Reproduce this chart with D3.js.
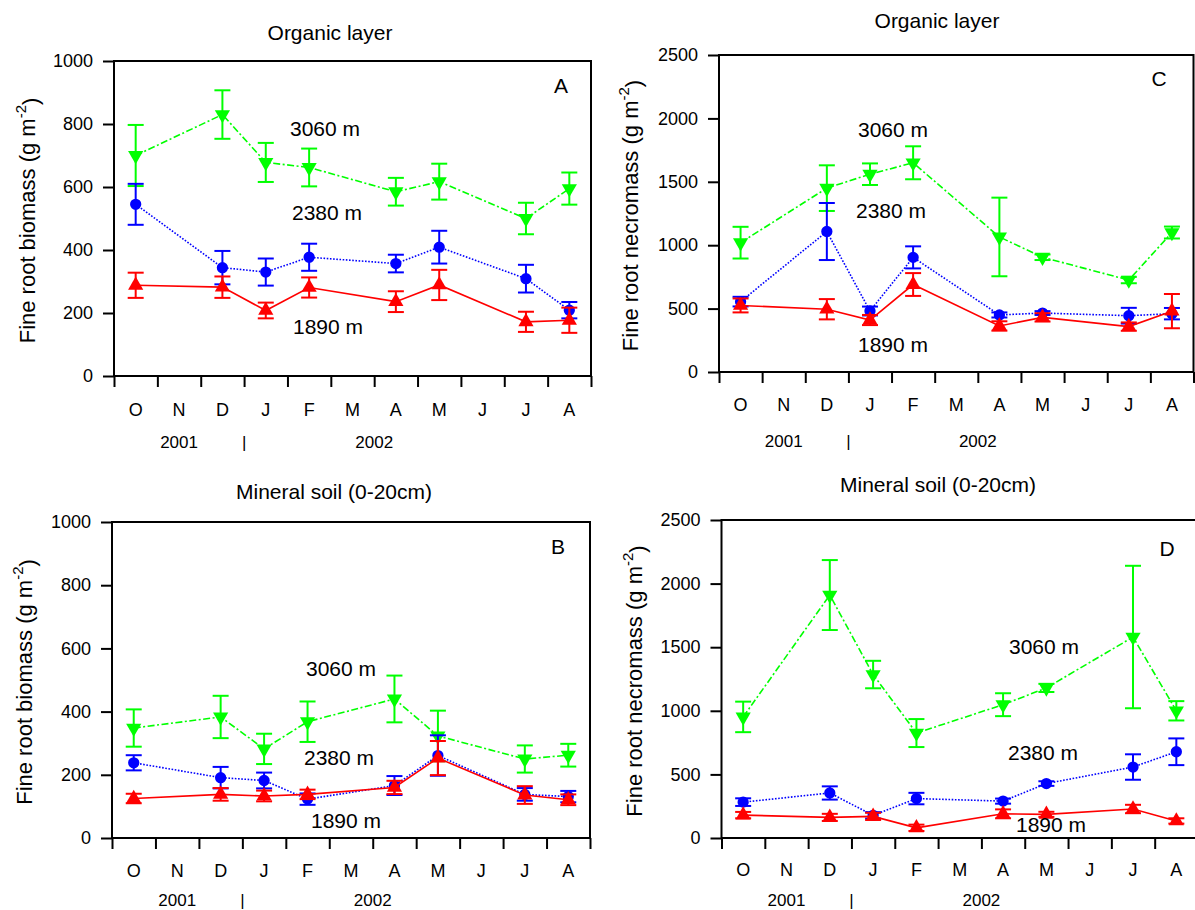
<!DOCTYPE html>
<html>
<head>
<meta charset="utf-8">
<script src="https://cdn.jsdelivr.net/npm/d3@7"></script>
<style>
  html, body { margin: 0; padding: 0; background: #fff; }
  svg { display: block; }
  text { font-family: "Liberation Sans", Arial, Helvetica, sans-serif; fill: #000; }
</style>
</head>
<body>
<svg id="chart" width="1195" height="910"></svg>
<script>
// Months on the x axis (Oct 2001 – Aug 2002) and the months that were sampled
const months = ["O", "N", "D", "J", "F", "M", "A", "M", "J", "J", "A"];
const sampleMonth = [0, 2, 3, 4, 6, 7, 9, 10];
const elevations = ["1890 m", "2380 m", "3060 m"];
const years = ["2001", "|", "2002"];

// Organic layer – fine root biomass (g m-2), mean and SE
const orgBio1890 = [288, 282, 208, 281, 236, 289, 172, 177];
const orgBio1890Se = [40, 34, 25, 32, 33, 48, 32, 40];
const orgBio2380 = [545, 344, 330, 377, 357, 409, 309, 209];
const orgBio2380Se = [65, 53, 43, 43, 28, 52, 44, 26];
const orgBio3060 = [700, 830, 678, 662, 585, 617, 500, 595];
const orgBio3060Se = [97, 77, 62, 60, 44, 57, 50, 51];

// Mineral soil (0-20cm) – fine root biomass
const minBio1890 = [125, 138, 133, 138, 160, 253, 136, 121];
const minBio1890Se = [15, 20, 17, 15, 21, 54, 28, 17];
const minBio2380 = [238, 191, 182, 123, 166, 261, 138, 131];
const minBio2380Se = [24, 34, 25, 18, 30, 64, 20, 18];
const minBio3060 = [348, 383, 282, 368, 440, 323, 250, 262];
const minBio3060Se = [59, 67, 48, 64, 74, 80, 43, 36];

// Organic layer – fine root necromass
const orgNec1890 = [525, 495, 410, 690, 363, 431, 358, 480];
const orgNec1890Se = [55, 80, 40, 90, 37, 33, 33, 135];
const orgNec2380 = [555, 1108, 481, 904, 450, 465, 444, 460];
const orgNec2380Se = [38, 225, 35, 87, 20, 15, 62, 45];
const orgNec3060 = [1020, 1450, 1560, 1650, 1065, 905, 725, 1100];
const orgNec3060Se = [125, 180, 85, 130, 310, 22, 25, 47];

// Mineral soil (0-20cm) – fine root necromass
const minNec1890 = [180, 162, 170, 80, 190, 186, 228, 134];
const minNec1890Se = [25, 28, 28, 25, 35, 20, 33, 21];
const minNec2380 = [282, 354, 178, 310, 290, 428, 558, 678];
const minNec2380Se = [30, 52, 25, 45, 20, 18, 100, 105];
const minNec3060 = [952, 1910, 1285, 825, 1048, 1180, 1580, 1000];
const minNec3060Se = [120, 275, 108, 110, 90, 32, 560, 76];

const biomassTicks = [0, 200, 400, 600, 800, 1000];
const necromassTicks = [0, 500, 1000, 1500, 2000, 2500];

// Series styles: drawn 3060 first, then 2380, then 1890 on top
const seriesStyle = {
  "3060 m": { color: "#00ff00", dash: "7,2.5,2,2.5", symbol: "down" },
  "2380 m": { color: "#0000ff", dash: "1.6,1.6", symbol: "circle" },
  "1890 m": { color: "#ff0000", dash: null, symbol: "up" }
};

const panels = [
  {
    letter: "A", title: "Organic layer", yLabel: "Fine root biomass (g m",
    left: 114, top: 61, right: 591, bottom: 376, yMax: 1000, ticks: biomassTicks,
    titleX: 330, titleY: 32, yLabelX: 27, letterX: 561, letterY: 85,
    monthDy: 34, yearDy: 66,
    series: [
      { name: "3060 m", v: orgBio3060, e: orgBio3060Se, lx: 290, ly: 128 },
      { name: "2380 m", v: orgBio2380, e: orgBio2380Se, lx: 292, ly: 212 },
      { name: "1890 m", v: orgBio1890, e: orgBio1890Se, lx: 293, ly: 326 }
    ]
  },
  {
    letter: "C", title: "Organic layer", yLabel: "Fine root necromass (g m",
    left: 719, top: 55, right: 1193.5, bottom: 372, yMax: 2500, ticks: necromassTicks,
    titleX: 937, titleY: 20, yLabelX: 630, letterX: 1159, letterY: 78,
    monthDy: 33, yearDy: 69,
    series: [
      { name: "3060 m", v: orgNec3060, e: orgNec3060Se, lx: 858, ly: 129 },
      { name: "2380 m", v: orgNec2380, e: orgNec2380Se, lx: 856, ly: 210 },
      { name: "1890 m", v: orgNec1890, e: orgNec1890Se, lx: 858, ly: 344 }
    ]
  },
  {
    letter: "B", title: "Mineral soil (0-20cm)", yLabel: "Fine root biomass (g m",
    left: 112, top: 522, right: 590, bottom: 838, yMax: 1000, ticks: biomassTicks,
    titleX: 334, titleY: 491, yLabelX: 24, letterX: 558, letterY: 546,
    monthDy: 33, yearDy: 62,
    series: [
      { name: "3060 m", v: minBio3060, e: minBio3060Se, lx: 306, ly: 668 },
      { name: "2380 m", v: minBio2380, e: minBio2380Se, lx: 304, ly: 757 },
      { name: "1890 m", v: minBio1890, e: minBio1890Se, lx: 311, ly: 820 }
    ]
  },
  {
    letter: "D", title: "Mineral soil (0-20cm)", yLabel: "Fine root necromass (g m",
    left: 721.5, top: 520, right: 1198, bottom: 838, yMax: 2500, ticks: necromassTicks,
    titleX: 938, titleY: 484, yLabelX: 634, letterX: 1167, letterY: 548,
    monthDy: 32, yearDy: 62,
    series: [
      { name: "3060 m", v: minNec3060, e: minNec3060Se, lx: 1009, ly: 646 },
      { name: "2380 m", v: minNec2380, e: minNec2380Se, lx: 1008, ly: 752 },
      { name: "1890 m", v: minNec1890, e: minNec1890Se, lx: 1016, ly: 824 }
    ]
  }
];

const svg = d3.select("#chart");
svg.append("rect").attr("width", 1195).attr("height", 910).attr("fill", "#fff");

const triArea = 100;
const circleArea = 100;

panels.forEach(p => {
  const g = svg.append("g").attr("class", "panel-" + p.letter);
  const x = d3.scaleLinear().domain([0, months.length]).range([p.left, p.right]);
  const y = d3.scaleLinear().domain([0, p.yMax]).range([p.bottom, p.top]);
  const px = i => x(sampleMonth[i] + 0.5);

  // Title
  g.append("text").attr("x", p.titleX).attr("y", p.titleY)
    .attr("text-anchor", "middle").attr("dominant-baseline", "central")
    .style("font-size", "21px").text(p.title);

  // Y axis title with superscript
  const yt = g.append("text")
    .attr("transform", `translate(${p.yLabelX},${(p.top + p.bottom) / 2 + 2}) rotate(-90)`)
    .attr("text-anchor", "middle").attr("dominant-baseline", "central")
    .style("font-size", "22px");
  yt.append("tspan").text(p.yLabel);
  yt.append("tspan").attr("dy", "-0.45em").style("font-size", "15px").text("-2");
  yt.append("tspan").attr("dy", "0.45em").text(")");

  // Y axis ticks
  const yAxis = g.append("g").attr("transform", `translate(${p.left},0)`)
    .call(d3.axisLeft(y).tickValues(p.ticks).tickSize(11).tickPadding(10)
      .tickSizeOuter(0).tickFormat(d3.format("d")));
  yAxis.select(".domain").remove();
  yAxis.selectAll(".tick line").attr("stroke", "#000").attr("stroke-width", 2);
  yAxis.selectAll(".tick text").style("font-size", "18px")
    .style("font-family", "'Liberation Sans', Arial, sans-serif").attr("fill", "#000");

  // X axis ticks at month boundaries
  const xAxis = g.append("g").attr("transform", `translate(0,${p.bottom})`)
    .call(d3.axisBottom(x).tickValues(d3.range(months.length + 1)).tickSize(11)
      .tickFormat("").tickSizeOuter(0));
  xAxis.select(".domain").remove();
  xAxis.selectAll(".tick line").attr("stroke", "#000").attr("stroke-width", 2);

  // Month labels
  g.selectAll(".month").data(months).enter().append("text")
    .attr("x", (d, i) => x(i + 0.5)).attr("y", p.bottom + p.monthDy)
    .attr("text-anchor", "middle").attr("dominant-baseline", "central")
    .style("font-size", "18px").text(d => d);

  // Year labels
  const yearPos = [1.5, 3, 6];
  g.selectAll(".year").data(years).enter().append("text")
    .attr("x", (d, i) => x(yearPos[i])).attr("y", p.bottom + p.yearDy)
    .attr("text-anchor", "middle").attr("dominant-baseline", "central")
    .style("font-size", "17px").text(d => d);

  // Frame
  g.append("rect").attr("x", p.left).attr("y", p.top)
    .attr("width", p.right - p.left).attr("height", p.bottom - p.top)
    .attr("fill", "none").attr("stroke", "#000").attr("stroke-width", 2);

  // Panel letter
  g.append("text").attr("x", p.letterX).attr("y", p.letterY)
    .attr("text-anchor", "middle").attr("dominant-baseline", "central")
    .style("font-size", "21px").text(p.letter);

  // Series
  p.series.forEach(s => {
    const st = seriesStyle[s.name];
    const sg = g.append("g");
    const line = d3.line().x((d, i) => px(i)).y(d => y(d));
    sg.append("path").datum(s.v).attr("d", line)
      .attr("fill", "none").attr("stroke", st.color).attr("stroke-width", 1.6)
      .attr("stroke-dasharray", st.dash);

    // Error bars
    const cap = 8;
    s.v.forEach((v, i) => {
      const cx = px(i), y0 = y(v - s.e[i]), y1 = y(v + s.e[i]);
      sg.append("line").attr("x1", cx).attr("x2", cx).attr("y1", y0).attr("y2", y1)
        .attr("stroke", st.color).attr("stroke-width", 2);
      [y0, y1].forEach(yy => sg.append("line")
        .attr("x1", cx - cap).attr("x2", cx + cap).attr("y1", yy).attr("y2", yy)
        .attr("stroke", st.color).attr("stroke-width", 2));
    });

    // Markers
    const sym = st.symbol === "circle"
      ? d3.symbol().type(d3.symbolCircle).size(circleArea)
      : d3.symbol().type(d3.symbolTriangle).size(triArea);
    sg.selectAll(".mk").data(s.v).enter().append("path")
      .attr("d", sym)
      .attr("transform", (d, i) => `translate(${px(i)},${y(d)})` + (st.symbol === "down" ? " rotate(180)" : ""))
      .attr("fill", st.color);

    // Elevation label
    g.append("text").attr("x", s.lx).attr("y", s.ly)
      .attr("dominant-baseline", "central").style("font-size", "21px").text(s.name);
  });
});
</script>
</body>
</html>
